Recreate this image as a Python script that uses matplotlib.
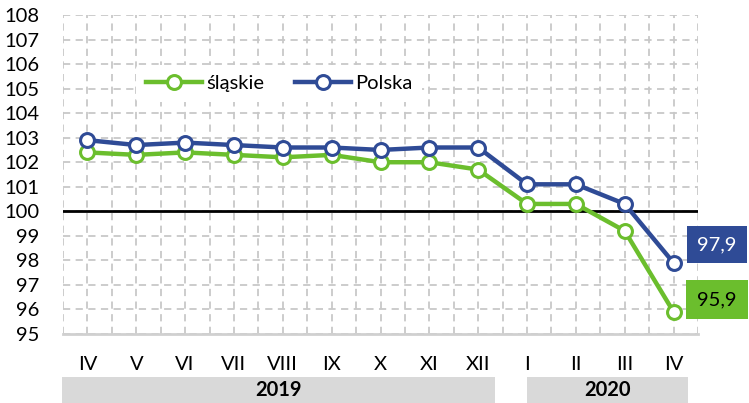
import matplotlib
matplotlib.use("Agg")
import matplotlib.pyplot as plt
from matplotlib.patches import Rectangle
import matplotlib.transforms as mtransforms

months = ["IV", "V", "VI", "VII", "VIII", "IX", "X", "XI", "XII", "I", "II", "III", "IV"]
slaskie = [102.4, 102.3, 102.4, 102.3, 102.2, 102.3, 102.0, 102.0, 101.7, 100.3, 100.3, 99.2, 95.9]
polska = [102.9, 102.7, 102.8, 102.7, 102.6, 102.6, 102.5, 102.6, 102.6, 101.1, 101.1, 100.3, 97.9]
years = ["2019", "2020"]
yticks = list(range(95, 109))

GREEN = "#6BBE2D"
BLUE = "#2F4B96"
FONT = "Lato"
FS = 14.5

plt.rcParams["font.family"] = [FONT, "DejaVu Sans"]

fig = plt.figure(figsize=(7.49, 4.03), dpi=100)
ax = fig.add_axes([63 / 749, 1 - 334 / 403, (698 - 63) / 749, (334 - 15) / 403])

x = list(range(len(months)))
ax.set_xlim(-0.5, len(months) - 0.5)
ax.set_ylim(95, 108)

# grid
for gx in [i * 0.5 - 0.5 for i in range(2 * len(months) + 1)]:
    ax.axvline(gx, color="#C8C8C8", lw=1.3, ls=(0, (4, 3)), zorder=0)
for gy in yticks:
    ax.axhline(gy, color="#C8C8C8", lw=1.3, ls=(0, (4, 3)), zorder=0)
ax.axhline(100, color="black", lw=2, zorder=1)

for s in ["left", "right", "top"]:
    ax.spines[s].set_visible(False)
ax.spines["bottom"].set_color("#D0D0D0")
ax.spines["bottom"].set_linewidth(2)

ax.plot(x, slaskie, color=GREEN, lw=3.2, marker="o", ms=10, mfc="white",
        mec=GREEN, mew=2.2, label="śląskie", zorder=3, clip_on=False)
ax.plot(x, polska, color=BLUE, lw=3.2, marker="o", ms=10, mfc="white",
        mec=BLUE, mew=2.2, label="Polska", zorder=4, clip_on=False)

ax.set_yticks(yticks)
ax.set_yticklabels([str(v) for v in yticks], fontsize=FS)
ax.set_xticks(x)
ax.set_xticklabels(months, fontsize=FS)
ax.tick_params(axis="both", length=0)
ax.tick_params(axis="x", pad=16)
ax.tick_params(axis="y", pad=17)

leg = ax.legend(loc="center left", bbox_to_anchor=(0.115, 0.785), ncol=2, frameon=True,
                fontsize=FS, handlelength=2.8, columnspacing=1.5, handletextpad=0.2,
                borderpad=0.5, borderaxespad=0)
leg.get_frame().set_facecolor("white")
leg.get_frame().set_edgecolor("none")
leg.get_frame().set_alpha(1)

# value boxes
ax.annotate(f"{polska[-1]:.1f}".replace(".", ","), xy=(x[-1], polska[-1]),
            xytext=(17, 13), textcoords="offset points", fontsize=FS, color="white",
            va="center", ha="left", annotation_clip=False,
            bbox=dict(boxstyle="square,pad=0.5", fc=BLUE, ec="none"))
ax.annotate(f"{slaskie[-1]:.1f}".replace(".", ","), xy=(x[-1], slaskie[-1]),
            xytext=(17, 9), textcoords="offset points", fontsize=FS, color="black",
            va="center", ha="left", annotation_clip=False,
            bbox=dict(boxstyle="square,pad=0.55", fc=GREEN, ec="none"))

# year boxes
trans = mtransforms.blended_transform_factory(ax.transData, fig.transFigure)
spans = [(-0.52, 8.35), (9.0, 12.3)]
for (x0, x1), yr in zip(spans, years):
    r = Rectangle((x0, 0), x1 - x0, 26 / 403, transform=trans, fc="#D9D9D9",
                  ec="none", clip_on=False)
    fig.add_artist(r)
    fig.text((x0 + x1) / 2, 13 / 403, yr, transform=trans, ha="center", va="center",
             fontsize=FS, fontweight="bold")

fig.savefig("out.png", dpi=100, facecolor="white")
